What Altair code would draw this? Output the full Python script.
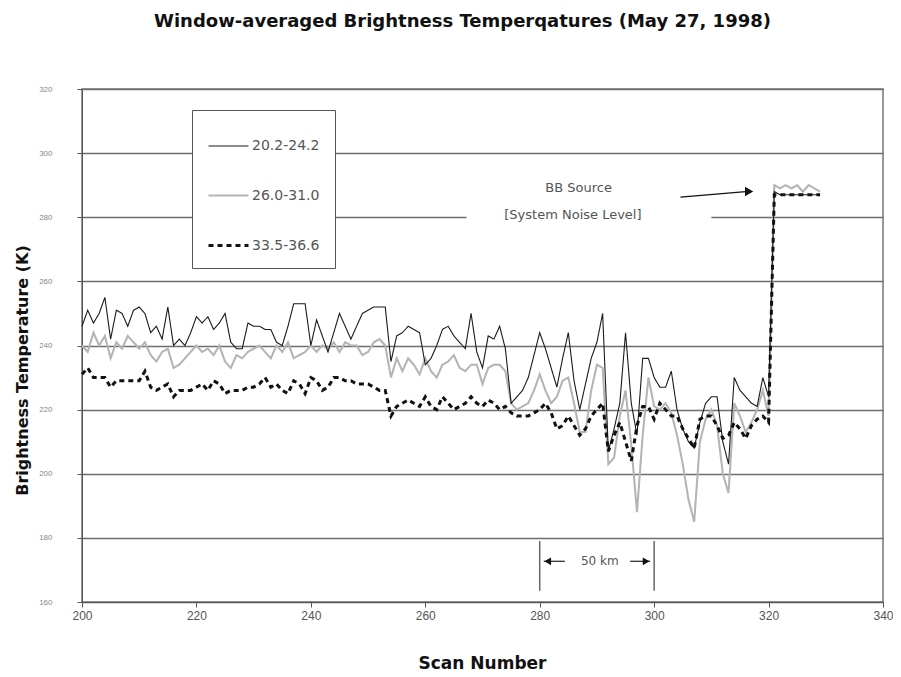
import altair as alt
import pandas as pd

# ---------------- data ----------------
scans = list(range(200, 330))
series_names = ["20.2-24.2", "26.0-31.0", "33.5-36.6"]

s1 = [246, 251, 247, 250, 255, 242, 251, 250, 246, 251,
      252, 250, 244, 246, 242, 252, 240, 242, 240, 244,
      249, 247, 249, 245, 247, 250, 241, 239, 239, 247,
      246, 246, 245, 245, 241, 240, 246, 253, 253, 253,
      240, 248, 243, 238, 244, 250, 246, 242, 246, 250,
      251, 252, 252, 252, 235, 243, 244, 246, 245, 244,
      234, 236, 240, 245, 246, 243, 241, 239, 250, 238,
      233, 243, 242, 246, 239, 222, 224, 226, 230, 237,
      244, 239, 233, 227, 236, 244, 229, 220, 228, 236,
      241, 250, 207, 214, 222, 244, 222, 212, 236, 236,
      230, 227, 227, 232, 220, 214, 210, 208, 216, 222,
      224, 224, 210, 203, 230, 226, 224, 222, 221, 230,
      224, 288, 287, 287, 287, 287, 287, 287, 287, 287]

s2 = [240, 238, 244, 240, 243, 236, 241, 239, 243, 241,
      239, 241, 237, 235, 238, 239, 233, 234, 236, 238,
      240, 238, 239, 237, 240, 235, 233, 237, 236, 238,
      239, 240, 238, 236, 240, 238, 241, 236, 237, 238,
      240, 238, 240, 239, 241, 238, 241, 240, 240, 237,
      238, 241, 242, 240, 230, 236, 232, 236, 234, 231,
      236, 232, 230, 234, 235, 237, 233, 232, 234, 234,
      228, 233, 234, 234, 232, 222, 220, 221, 222, 226,
      231, 226, 222, 224, 229, 230, 222, 213, 213, 226,
      234, 233, 203, 205, 218, 226, 209, 188, 212, 230,
      221, 220, 222, 219, 212, 203, 192, 185, 210, 217,
      220, 215, 200, 194, 222, 218, 213, 216, 220, 226,
      218, 290, 289, 290, 289, 290, 288, 290, 289, 288]

s3 = [231, 233, 230, 230, 230, 227, 229, 229, 229, 229,
      229, 232, 227, 226, 227, 228, 224, 226, 226, 226,
      227, 228, 226, 229, 228, 225, 226, 226, 226, 227,
      227, 228, 230, 227, 228, 226, 225, 229, 228, 225,
      230, 229, 226, 227, 230, 230, 229, 229, 228, 228,
      228, 227, 226, 226, 218, 221, 222, 223, 222, 221,
      224, 221, 220, 224, 222, 220, 221, 222, 224, 222,
      221, 223, 222, 220, 221, 219, 218, 218, 218, 219,
      220, 222, 219, 214, 215, 218, 215, 212, 214, 218,
      220, 222, 207, 212, 216, 210, 204, 215, 221, 221,
      217, 222, 220, 218, 218, 214, 211, 208, 217, 218,
      218, 215, 211, 212, 216, 214, 211, 215, 217, 218,
      216, 287, 287, 287, 287, 287, 287, 287, 287, 287]

x_ticks = [200, 220, 240, 260, 280, 300, 320, 340]
y_ticks = [160, 180, 200, 220, 240, 260, 280, 300, 320]

# annotations (data coordinates)
note_labels = ["BB Source", "[System Noise Level]"]
note_x = [286.8, 285.8]
note_y = [289.0, 280.6]
note_box = {"x1": [267.2], "x2": [310.0], "y1": [276.3], "y2": [292.5]}
bb_arrow = {"x": [304.6], "x2": [316.0], "y": [286.3], "y2": [288.0]}
bb_head = {"x": [316.6], "y": [288.05]}

km_label = "50 km"
km_marks = [280, 300]
km_y = [163.5, 179.0]
km_text_xy = [290.5, 172.7]
km_shafts = {"x": [280.7, 295.8], "x2": [284.4, 299.3]}
km_heads = {"x": [281.4, 298.6], "shape": ["triangle-left", "triangle-right"]}

# ---------------- chart ----------------
rows = []
for name, vals in zip(series_names, [s1, s2, s3]):
    for sc, v in zip(scans, vals):
        rows.append({"scan": sc, "temp": v, "band": name})
df = pd.DataFrame(rows)

x_scale = alt.Scale(domain=[200, 340], nice=False, zero=False)
y_scale = alt.Scale(domain=[160, 320], nice=False, zero=False)

color_scale = alt.Scale(domain=series_names, range=["#1a1a1a", "#b4b4b4", "#111111"])
dash_scale = alt.Scale(domain=series_names, range=[[1, 0], [1, 0], [5, 4]])
width_scale = alt.Scale(domain=series_names, range=[1.1, 3, 2.2])

legend = alt.Legend(
    title=None, orient="none", legendX=110, legendY=21, padding=15,
    strokeColor="#555", fillColor="white", symbolType="stroke",
    symbolSize=1600, rowPadding=21, labelFont="DejaVu Sans",
    labelFontSize=14, labelColor="#555", labelOffset=2,
)

x_axis = alt.Axis(
    values=x_ticks, title="Scan Number", grid=False, labelFlush=False,
    domainColor="#555", tickColor="#555", tickSize=5,
    labelColor="#555", labelFont="Liberation Sans", labelFontSize=12, labelPadding=3,
    titleFont="DejaVu Sans", titleFontSize=17, titleFontWeight="bold", titleColor="#111",
    titleX=400, titleY=61, titleBaseline="middle",
)
y_axis = alt.Axis(
    values=y_ticks, title="Brightness Temperature (K)", grid=True, labelFlush=False,
    gridColor="#6e6e6e", gridWidth=1.5,
    domainColor="#555", tickColor="#555", tickSize=5,
    labelColor="#888", labelFont="Liberation Sans", labelFontSize=8, labelPadding=25,
    titleFont="DejaVu Sans", titleFontSize=16, titleFontWeight="bold", titleColor="#111",
    titleX=-60, titleY=281, titleBaseline="middle",
)

def X(field):
    return alt.X(field, scale=x_scale, axis=x_axis)

def Y(field):
    return alt.Y(field, scale=y_scale, axis=y_axis)

def series_layer(name):
    return alt.Chart(df).transform_filter(alt.datum.band == name).mark_line().encode(
        x=X("scan:Q"),
        y=Y("temp:Q"),
        color=alt.Color("band:N", scale=color_scale, legend=legend),
        strokeDash=alt.StrokeDash("band:N", scale=dash_scale, legend=legend),
        strokeWidth=alt.StrokeWidth("band:N", scale=width_scale, legend=legend),
    )

box = alt.Chart(pd.DataFrame(note_box)).mark_rect(fill="white").encode(
    x=X("x1:Q"), x2="x2:Q", y=Y("y1:Q"), y2="y2:Q",
)
notes = alt.Chart(pd.DataFrame({"x": note_x, "y": note_y, "t": note_labels})).mark_text(
    font="DejaVu Sans", fontSize=13, color="#555"
).encode(x=X("x:Q"), y=Y("y:Q"), text="t:N")
arrow = alt.Chart(pd.DataFrame(bb_arrow)).mark_rule(color="#111", strokeWidth=1.2).encode(
    x=X("x:Q"), x2="x2:Q", y=Y("y:Q"), y2="y2:Q",
)
arrow_head = alt.Chart(pd.DataFrame(bb_head)).mark_point(
    shape="triangle-right", filled=True, size=90, color="#111", opacity=1
).encode(x=X("x:Q"), y=Y("y:Q"))

km_v = alt.Chart(pd.DataFrame({"x": km_marks, "y": [km_y[0]] * 2, "y2": [km_y[1]] * 2})).mark_rule(
    color="#666", strokeWidth=1.5
).encode(x=X("x:Q"), y=Y("y:Q"), y2="y2:Q")
km_s = alt.Chart(pd.DataFrame({**km_shafts, "y": [km_text_xy[1]] * 2})).mark_rule(
    color="#222", strokeWidth=1.2
).encode(x=X("x:Q"), x2="x2:Q", y=Y("y:Q"))
km_h = alt.Chart(pd.DataFrame({**km_heads, "y": [km_text_xy[1]] * 2})).mark_point(
    filled=True, size=60, color="#111", opacity=1
).encode(
    x=X("x:Q"), y=Y("y:Q"),
    shape=alt.Shape("shape:N", scale=None, legend=None),
)
km_t = alt.Chart(pd.DataFrame({"x": [km_text_xy[0]], "y": [km_text_xy[1]], "t": [km_label]})).mark_text(
    font="DejaVu Sans", fontSize=12, color="#555"
).encode(x=X("x:Q"), y=Y("y:Q"), text="t:N")

chart = alt.layer(
    box, notes, arrow, arrow_head, km_v, km_s, km_h, km_t,
    series_layer(series_names[1]),
    series_layer(series_names[0]),
    series_layer(series_names[2]),
).properties(
    width=801, height=513,
    autosize=alt.AutoSizeParams(type="none"),
    padding={"left": 74, "top": 81, "right": 10, "bottom": 70},
    title=alt.TitleParams(
        "Window-averaged Brightness Temperqatures (May 27, 1998)",
        font="DejaVu Sans", fontSize=18, fontWeight="bold", color="#111",
        anchor="middle", dx=-20, offset=54,
    ),
).configure_view(stroke="#777", strokeWidth=1.5)

chart.save("out.html", embed_options={"renderer": "svg", "actions": False})
